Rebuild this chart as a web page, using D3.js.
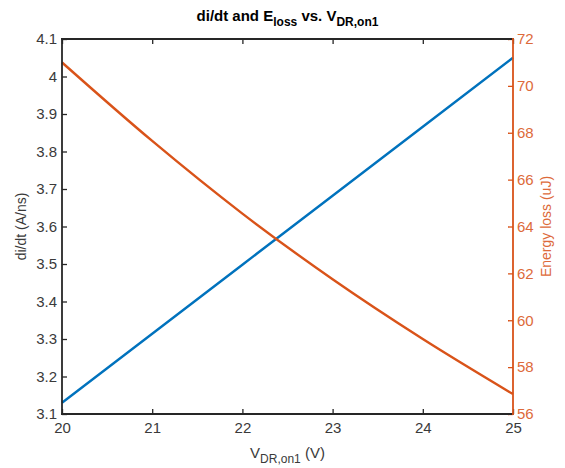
<!DOCTYPE html>
<html>
<head>
<meta charset="utf-8">
<script src="https://cdn.jsdelivr.net/npm/d3@7/dist/d3.min.js"></script>
<style>
  html, body { margin: 0; padding: 0; background: #ffffff; }
  svg { display: block; font-family: "Liberation Sans", Arial, Helvetica, sans-serif; }
</style>
</head>
<body>
<svg id="chart" width="565" height="468"></svg>
<script>
// Gate drive voltage sweep (V)
const vDrive = [20, 21, 22, 23, 24, 25];
// Current slew rate di/dt (A/ns), left axis
const didt = [3.13, 3.314, 3.498, 3.682, 3.866, 4.05];
// Switching energy loss (uJ), right axis
const eLoss = [71.0, 67.65, 64.55, 61.75, 59.2, 56.85];

// Tick values
const xTicks = [20, 21, 22, 23, 24, 25];
const leftTicks = [3.1, 3.2, 3.3, 3.4, 3.5, 3.6, 3.7, 3.8, 3.9, 4.0, 4.1];
const rightTicks = [56, 58, 60, 62, 64, 66, 68, 70, 72];

const BLUE = "#0072BD";
const ORANGE = "#D95319";
const INK = "#262626";

const margin = { left: 62, right: 52, top: 39, bottom: 54 };
const W = 565, H = 468;
const x0 = margin.left, x1 = W - margin.right;
const y0 = H - margin.bottom, y1 = margin.top;

const svg = d3.select("#chart");

const x = d3.scaleLinear().domain([20, 25]).range([x0, x1]);
const yL = d3.scaleLinear().domain([3.1, 4.1]).range([y0, y1]);
const yR = d3.scaleLinear().domain([56, 72]).range([y0, y1]);

const fmt = d3.format("~g");
const tickLen = 5;
const tickFont = "15px";

// Bottom axis
const gx = svg.append("g").attr("transform", `translate(0,${y0})`)
  .call(d3.axisBottom(x).tickValues(xTicks).tickFormat(fmt).tickSize(-tickLen).tickPadding(8));
// Top axis (ticks only)
const gt = svg.append("g").attr("transform", `translate(0,${y1})`)
  .call(d3.axisTop(x).tickValues(xTicks).tickFormat("").tickSize(-tickLen));
// Left axis
const gl = svg.append("g").attr("transform", `translate(${x0},0)`)
  .call(d3.axisLeft(yL).tickValues(leftTicks).tickFormat(fmt).tickSize(-tickLen).tickPadding(5));
// Right axis
const gr = svg.append("g").attr("transform", `translate(${x1},0)`)
  .call(d3.axisRight(yR).tickValues(rightTicks).tickFormat(fmt).tickSize(-tickLen).tickPadding(4));

[gx, gt, gl, gr].forEach(g => g.select(".domain").remove());
[gx, gt, gl].forEach(g => {
  g.selectAll(".tick line").attr("stroke", INK).attr("stroke-width", 1.3);
  g.selectAll(".tick text").attr("fill", "#3a3a3a").style("font-size", tickFont)
    .style("font-family", "'Liberation Sans', Arial, Helvetica, sans-serif");
});
gr.selectAll(".tick line").attr("stroke", ORANGE).attr("stroke-width", 1.3);
gr.selectAll(".tick text").attr("fill", "#DD6A3A").style("font-size", tickFont)
  .style("font-family", "'Liberation Sans', Arial, Helvetica, sans-serif");

// Data lines
const lineL = d3.line().x((d, i) => x(vDrive[i])).y(d => yL(d));
const lineR = d3.line().x((d, i) => x(vDrive[i])).y(d => yR(d)).curve(d3.curveMonotoneX);

svg.append("path").datum(didt).attr("d", lineL)
  .attr("fill", "none").attr("stroke", BLUE).attr("stroke-width", 2.4);
svg.append("path").datum(eLoss).attr("d", lineR)
  .attr("fill", "none").attr("stroke", ORANGE).attr("stroke-width", 2.4);

// Axes frame
const frame = svg.append("g").attr("stroke-width", 1.8).attr("stroke-linecap", "square");
frame.append("line").attr("x1", x0).attr("x2", x1).attr("y1", y0).attr("y2", y0).attr("stroke", INK);
frame.append("line").attr("x1", x0).attr("x2", x1).attr("y1", y1).attr("y2", y1).attr("stroke", INK);
frame.append("line").attr("x1", x0).attr("x2", x0).attr("y1", y0).attr("y2", y1).attr("stroke", INK);
frame.append("line").attr("x1", x1).attr("x2", x1).attr("y1", y0).attr("y2", y1).attr("stroke", ORANGE);

// Title
const title = svg.append("text")
  .attr("x", (x0 + x1) / 2).attr("y", 21)
  .attr("text-anchor", "middle")
  .attr("fill", "#000").style("font-size", "15px").style("font-weight", "bold");
title.append("tspan").text("di/dt and E");
title.append("tspan").text("loss").attr("dy", 5).style("font-size", "12px");
title.append("tspan").text(" vs. V").attr("dy", -5);
title.append("tspan").text("DR,on1").attr("dy", 5).style("font-size", "12px");

// X axis label
const xl = svg.append("text")
  .attr("x", (x0 + x1) / 2).attr("y", 458)
  .attr("text-anchor", "middle").attr("fill", "#3a3a3a").style("font-size", "15px");
xl.append("tspan").text("V");
xl.append("tspan").text("DR,on1").attr("dy", 5).style("font-size", "12px");
xl.append("tspan").text(" (V)").attr("dy", -5);

// Left y label
svg.append("text")
  .attr("transform", `translate(26,${(y0 + y1) / 2}) rotate(-90)`)
  .attr("text-anchor", "middle").attr("fill", "#3a3a3a").style("font-size", "14px")
  .text("di/dt (A/ns)");

// Right y label
svg.append("text")
  .attr("transform", `translate(551,${(y0 + y1) / 2}) rotate(-90)`)
  .attr("text-anchor", "middle").attr("fill", "#DD6A3A").style("font-size", "14px")
  .text("Energy loss (uJ)");
</script>
</body>
</html>
